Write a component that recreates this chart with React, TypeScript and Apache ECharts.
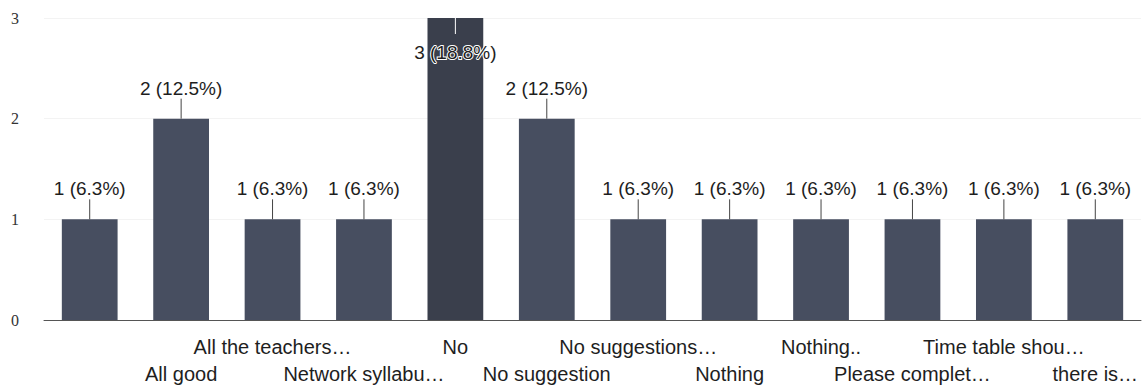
import React, { useEffect, useRef } from "react";
import * as echarts from "echarts";

const categories = [
  "",
  "All good",
  "All the teachers…",
  "Network syllabu…",
  "No",
  "No suggestion",
  "No suggestions…",
  "Nothing",
  "Nothing..",
  "Please complet…",
  "Time table shou…",
  "there is…",
];
const counts = [1, 2, 1, 1, 3, 2, 1, 1, 1, 1, 1, 1];
const percents = ["6.3", "12.5", "6.3", "6.3", "18.8", "12.5", "6.3", "6.3", "6.3", "6.3", "6.3", "6.3"];
const yTicks = [0, 1, 2, 3];

export default function App() {
  const ref = useRef<HTMLDivElement>(null);
  useEffect(() => {
    if (!ref.current) return;
    const chart = echarts.init(ref.current, null, { renderer: "svg" });
    const maxV = Math.max(...counts);
    const font = "Liberation Sans, Arial, sans-serif";
    chart.setOption({
      animation: false,
      grid: { left: 44, right: 4, top: 18, bottom: 71 },
      xAxis: {
        type: "category",
        data: categories,
        axisTick: { show: false },
        axisLine: { lineStyle: { color: "#555", width: 1 } },
        axisLabel: {
          interval: 0,
          margin: 13,
          color: "#1e1e1e",
          fontSize: 20,
          fontFamily: font,
          lineHeight: 27,
          formatter: (v: string, i: number) => (i % 2 === 0 ? v : "\n" + v),
        },
      },
      yAxis: {
        type: "value",
        min: yTicks[0],
        max: yTicks[yTicks.length - 1],
        interval: 1,
        axisLine: { show: false },
        axisTick: { show: false },
        splitLine: { lineStyle: { color: "#f3f3f3" } },
        axisLabel: {
          color: "#333",
          fontSize: 16,
          fontFamily: "Liberation Serif, Times New Roman, serif",
          margin: 25,
        },
      },
      series: [
        {
          type: "bar",
          barWidth: "61%",
          itemStyle: { color: "#474e60" },
          data: counts.map((v) =>
            v === maxV
              ? {
                  value: v,
                  itemStyle: { color: "#3a3f4c" },
                  label: {
                    position: "insideTop",
                    distance: 25,
                    color: "#1e1e1e",
                    textBorderColor: "#fff",
                    textBorderWidth: 2,
                  },
                }
              : v
          ),
          label: {
            show: true,
            position: "top",
            distance: 21,
            color: "#1e1e1e",
            fontSize: 19,
            fontFamily: font,
            formatter: (p: any) => `${counts[p.dataIndex]} (${percents[p.dataIndex]}%)`,
          },
        },
        {
          type: "custom",
          data: counts.map((v, i) => [i, v]),
          encode: { x: 0, y: 1 },
          z: 5,
          renderItem: (params: any, api: any) => {
            const v = api.value(1);
            const p = api.coord([api.value(0), v]);
            const isMax = v === maxV;
            return {
              type: "line",
              shape: isMax
                ? { x1: p[0], y1: p[1], x2: p[0], y2: p[1] + 16 }
                : { x1: p[0], y1: p[1], x2: p[0], y2: p[1] - 20 },
              style: { stroke: isMax ? "#fff" : "#444", lineWidth: 1 },
            };
          },
        },
      ],
    });
    return () => chart.dispose();
  }, []);
  return (
    <div
      ref={ref}
      style={{ position: "fixed", left: 0, top: 0, width: 1145, height: 391, background: "#fff" }}
    />
  );
}
